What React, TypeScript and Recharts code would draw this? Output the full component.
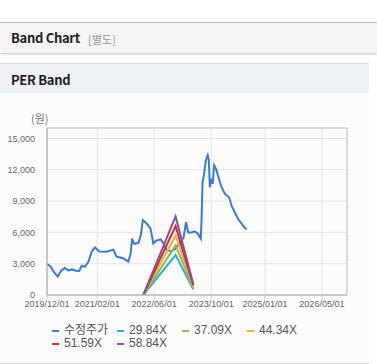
import { LineChart, Line, XAxis, YAxis, CartesianGrid, ReferenceArea } from 'recharts';

// adjusted close price
const priceDates = [
  '2019-12-01', '2020-01-01', '2020-01-25', '2020-03-01', '2020-04-01', '2020-05-01', '2020-06-01',
  '2020-07-01', '2020-08-01', '2020-09-01', '2020-09-22', '2020-10-19', '2020-11-19', '2020-12-16',
  '2021-01-13', '2021-02-19', '2021-04-22', '2021-06-19', '2021-07-16', '2021-09-13', '2021-10-25',
  '2021-11-13', '2021-11-25', '2021-12-13', '2022-01-19', '2022-02-07', '2022-02-25', '2022-03-28',
  '2022-05-01', '2022-05-25', '2022-06-22', '2022-07-28', '2022-08-25', '2022-09-16', '2022-10-28',
  '2022-11-25', '2023-01-07', '2023-02-07', '2023-02-28', '2023-03-19', '2023-04-16', '2023-05-13',
  '2023-06-07', '2023-07-04', '2023-07-10', '2023-07-19', '2023-08-01', '2023-08-16', '2023-09-01',
  '2023-09-10', '2023-09-19', '2023-10-04', '2023-10-13', '2023-10-25', '2023-11-10', '2023-12-01',
  '2023-12-28', '2024-01-25', '2024-03-01', '2024-03-22', '2024-04-19', '2024-05-19', '2024-07-01',
  '2024-07-28',
];
const prices = [
  2970, 2740, 2260, 1770, 2350, 2580, 2350,
  2450, 2320, 2300, 2800, 2700, 3200, 4160,
  4550, 4160, 4150, 4350, 3680, 3500, 3200,
  3970, 5400, 4900, 5000, 5710, 7160, 6870,
  6390, 4940, 5230, 5320, 4840, 4300, 4200,
  4400, 5000, 5500, 6970, 6000, 6000, 6100,
  5900, 5400, 7100, 10800, 11600, 12900, 13400,
  12900, 10330, 11130, 10650, 12420, 12100, 11300,
  10330, 9680, 9360, 8550, 7900, 7260, 6610,
  6290,
];

// PER bands
const bandDates = ['2022-03-01', '2022-12-01', '2023-05-01'];
const band2984 = [0, 3820, 540];
const band3709 = [0, 4750, 670];
const band4434 = [0, 5680, 800];
const band5159 = [0, 6600, 930];
const band5884 = [0, 7530, 1060];

const xTicks = ['2019-12-01', '2021-02-01', '2022-06-01', '2023-10-01', '2025-01-01', '2026-05-01'];
const yTicks = [0, 3000, 6000, 9000, 12000, 15000];

const toTs = (d: string) => Date.parse(d + 'T00:00:00Z');
const X_MIN = toTs('2019-12-01');
const X_MAX = toTs('2026-12-01');
const Y_MAX = 16000;

const priceData = priceDates.map((d, i) => ({ t: toTs(d), v: prices[i] }));
const makeBand = (vals: number[]) => bandDates.map((d, i) => ({ t: toTs(d), v: vals[i] }));

const series = [
  { name: '수정주가', color: '#3b7bd4', data: priceData },
  { name: '29.84X', color: '#26b4c2', data: makeBand(band2984) },
  { name: '37.09X', color: '#8fbb4d', data: makeBand(band3709) },
  { name: '44.34X', color: '#f2ae35', data: makeBand(band4434) },
  { name: '51.59X', color: '#c9302c', data: makeBand(band5159) },
  { name: '58.84X', color: '#8e4ea0', data: makeBand(band5884) },
];

const fmtDate = (ts: number) => {
  const d = new Date(ts);
  const mm = String(d.getUTCMonth() + 1).padStart(2, '0');
  const dd = String(d.getUTCDate()).padStart(2, '0');
  return `${d.getUTCFullYear()}/${mm}/${dd}`;
};

const FONT = "'Liberation Sans', 'Noto Sans CJK KR', sans-serif";
const KR = "'Noto Sans CJK KR', sans-serif";

export default function App() {
  return (
    <div style={{ position: 'absolute', left: 0, top: 0, width: 377, height: 364, background: '#fff', fontFamily: FONT }}>
      {/* top header */}
      <div
        style={{
          position: 'absolute', left: 0, top: 22, width: 377, height: 30,
          background: '#f4f4f4', borderTop: '1px solid #bdbdbd',
          boxShadow: '0 1px 2px rgba(0,0,0,0.25)',
        }}
      >
        <span style={{ position: 'absolute', left: 11, top: 7, fontSize: 13, fontWeight: 'bold', color: '#222', fontFamily: KR, lineHeight: '16px', letterSpacing: -0.3 }}>
          Band Chart
        </span>
        <span style={{ position: 'absolute', left: 88, top: 8, fontSize: 11, color: '#999', fontFamily: KR, lineHeight: '16px' }}>
          [별도]
        </span>
      </div>

      {/* panel */}
      <div
        style={{
          position: 'absolute', left: 0, top: 63, width: 369, height: 299,
          background: '#fcfcfc', borderTop: '1px solid #dde2e8', borderBottom: '1px solid #cfcfcf',
        }}
      >
        <div style={{ height: 29, background: '#eef2f7', position: 'relative' }}>
          <span style={{ position: 'absolute', left: 11, top: 8, fontSize: 13, fontWeight: 'bold', color: '#222', fontFamily: KR, lineHeight: '16px', letterSpacing: -0.3 }}>
            PER Band
          </span>
        </div>
      </div>

      <div style={{ position: 'absolute', left: 31, top: 111, fontSize: 11, color: '#777', fontFamily: KR, lineHeight: '14px' }}>
        (원)
      </div>

      <div style={{ position: 'absolute', left: 0, top: 93 }}>
        <LineChart width={370} height={235} margin={{ top: 35, right: 23, bottom: 3, left: 0 }}>
          <CartesianGrid stroke="#e6e6e6" verticalValues={xTicks.map(toTs)} horizontalValues={yTicks} />
          <XAxis
            dataKey="t"
            type="number"
            domain={[X_MIN, X_MAX]}
            ticks={xTicks.map(toTs)}
            tickFormatter={fmtDate}
            allowDataOverflow
            height={30}
            tick={{ fontSize: 9, fill: '#666', fontFamily: FONT }}
            axisLine={{ stroke: '#bbb' }}
            tickLine={{ stroke: '#ccc' }}
            tickSize={4}
            interval={0}
          />
          <YAxis
            type="number"
            domain={[0, Y_MAX]}
            ticks={yTicks}
            allowDataOverflow
            width={47}
            tickFormatter={(v: number) => v.toLocaleString('en-US')}
            tick={{ fontSize: 9, fill: '#666', fontFamily: FONT }}
            axisLine={{ stroke: '#bbb' }}
            tickLine={false}
            tickMargin={6}
          />
          <ReferenceArea x1={X_MIN} x2={X_MAX} y1={0} y2={Y_MAX} fill="none" stroke="#bbb" strokeWidth={1} />
          {series.map((s) => (
            <Line
              key={s.name}
              data={s.data}
              dataKey="v"
              name={s.name}
              type="linear"
              stroke={s.color}
              strokeWidth={2}
              dot={false}
              activeDot={false}
              isAnimationActive={false}
            />
          ))}
        </LineChart>
      </div>

      {/* legend */}
      <div style={{ position: 'absolute', left: 52, top: 324, width: 270, display: 'flex', flexWrap: 'wrap' }}>
        {series.map((s) => (
          <div key={s.name} style={{ width: 65, height: 13, display: 'flex', alignItems: 'center', fontSize: 12, color: '#555', lineHeight: '13px' }}>
            <span style={{ display: 'inline-block', width: 7, height: 2, background: s.color, marginRight: 5 }} />
            <span>{s.name}</span>
          </div>
        ))}
      </div>
    </div>
  );
}
